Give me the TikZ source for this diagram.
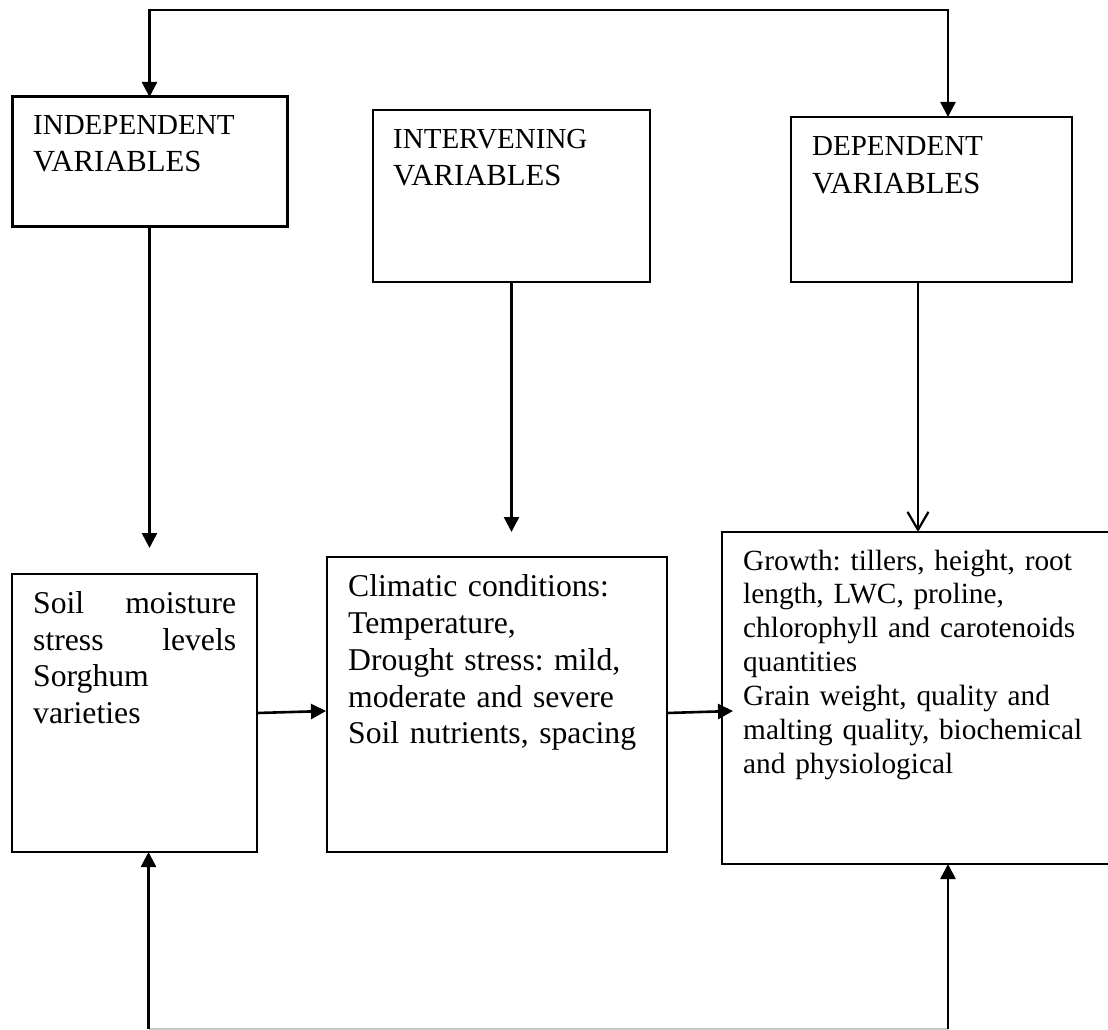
\documentclass[tikz,border=0pt]{standalone}
\usepackage{fontspec}
\setmainfont{Liberation Serif}
\usetikzlibrary{arrows.meta}
\begin{document}
\frenchspacing
\begin{tikzpicture}[x=1pt,y=-1pt,
  box/.style={draw=black, line width=2.2pt, rectangle, inner sep=0pt, outer sep=0pt, anchor=north west},
  txt/.style={inner sep=0pt, anchor=base west, align=left},
  hdr/.style={txt, font=\fontsize{29}{37}\selectfont},
  body/.style={txt, font=\fontsize{31.7}{36.8}\selectfont},
  small/.style={txt, font=\fontsize{29.3}{33.9}\selectfont},
  arr/.style={line width=2.6pt, -{Triangle[length=15pt,width=15pt]}},
  openarr/.style={line width=2.6pt, -{Straight Barb[length=18pt,width=21pt,line width=2.2pt]}},
  faint/.style={line width=1.2pt, draw=black!22}
]
\useasboundingbox (0,0) rectangle (1108,1030);
\fill[white] (0,0) rectangle (1108,1030);

% boxes
\node[box, line width=3pt, minimum width=275pt, minimum height=129pt] (indep) at (12,97) {};
\node[box, minimum width=277pt, minimum height=172pt] (interv) at (373,110) {};
\node[box, minimum width=281pt, minimum height=165pt] (dep) at (791,117) {};
\node[box, minimum width=245pt, minimum height=278pt] (soil) at (12,574) {};
\node[box, minimum width=340pt, minimum height=295pt] (clim) at (327,557) {};
\node[box, minimum width=420pt, minimum height=332pt] (growth) at (722,532) {};

% texts
\node[hdr, text width=240pt] (indept) at (33,135) {INDEPENDENT\\{\fontsize{30.7}{37}\selectfont VARIABLES}};
\node[hdr, text width=240pt] (intervt) at (393,148.3) {INTERVENING\\{\fontsize{30.7}{37}\selectfont VARIABLES}};
\node[hdr, text width=240pt] (dept) at (812,155) {DEPENDENT\\[1pt]{\fontsize{30.7}{37}\selectfont VARIABLES}};
\node[body, text width=203pt] (soilt) at (33,613.3) {Soil\hfill moisture\\ stress\hfill levels\\ Sorghum\\ varieties};
\node[body, text width=310pt] (climt) at (348,596.7) {Climatic conditions:\\ Temperature,\\ Drought stress: mild,\\ moderate and severe\\ Soil nutrients, spacing};
\node[small, text width=360pt] (growtht) at (743,570) {Growth: tillers, height, root\\ length, LWC, proline,\\ chlorophyll and carotenoids\\ quantities\\ Grain weight, quality and\\ malting quality, biochemical\\ and physiological};

% top connector
\coordinate (tl) at (149.5,10);
\coordinate (tr) at (948,10);
\draw[line width=2.4pt, {Triangle[length=15pt,width=15pt]}-{Triangle[length=15pt,width=15pt]}]
  (tl |- indep.north) -- (tl) -- (tr) -- (tr |- dep.north);

% vertical arrows down
\coordinate (a1) at (149.5,548);
\draw[arr] (indep.south) -- (a1);
\coordinate (a2) at (511.5,532);
\draw[arr] (interv.south) -- (a2);
\coordinate (dx) at (918,0);
\draw[openarr] (dx |- dep.south) -- (dx |- growth.north);

% horizontal arrows
\draw[arr] (soil.east) -- ([xshift=-1pt,yshift=-6.5pt]clim.west);
\draw[arr] ([yshift=-8.5pt]clim.east) -- ([xshift=11pt,yshift=-13pt]growth.west);

% bottom connector
\coordinate (bl) at (148.5,1029);
\coordinate (br) at (948,1029);
\draw[faint] (bl) -- (br);
\draw[arr] (bl) -- (bl |- soil.south);
\draw[arr] (br) -- (br |- growth.south);
\end{tikzpicture}
\end{document}
